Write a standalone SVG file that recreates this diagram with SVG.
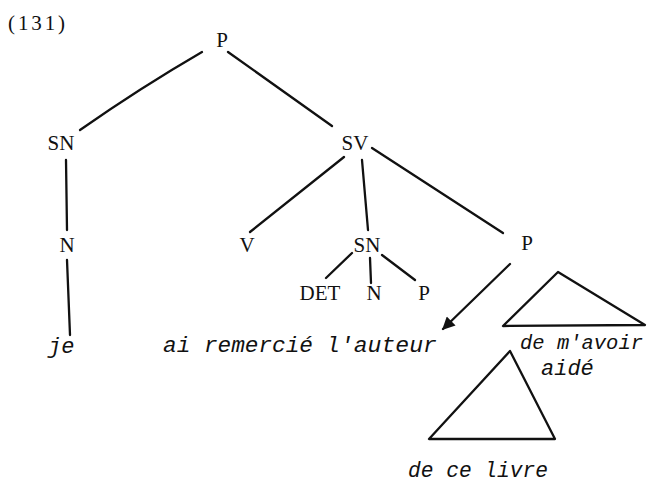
<svg xmlns="http://www.w3.org/2000/svg" width="649" height="483" viewBox="0 0 649 483">
<defs>
<style>
.lbl{font-family:"Liberation Serif","DejaVu Serif",serif;font-size:21px;fill:#111;text-anchor:middle}
.leaf{font-family:"Liberation Mono","DejaVu Sans Mono",monospace;font-size:22px;font-style:italic;fill:#111}
.e{stroke:#111;stroke-width:2.3;fill:none;stroke-linecap:round;stroke-linejoin:round}
</style>
<marker id="ah" viewBox="0 0 10 10" refX="9" refY="5" markerWidth="7.5" markerHeight="5.5" orient="auto" markerUnits="strokeWidth">
<path d="M0,0 L10,5 L0,10 Z" fill="#111"/>
</marker>
</defs>
<rect width="649" height="483" fill="#fff"/>
<text x="8" y="30" class="lbl" style="text-anchor:start" textLength="57" lengthAdjust="spacing">(131)</text>
<g id="connectors">
<path class="e" d="M202,52 Q140,88 80,130"/>
<line class="e" x1="228" y1="52" x2="332" y2="126"/>
<line class="e" x1="66" y1="160" x2="67" y2="230"/>
<line class="e" x1="67" y1="260" x2="70" y2="335"/>
<line class="e" x1="344" y1="157" x2="250" y2="232"/>
<line class="e" x1="362" y1="160" x2="368" y2="230"/>
<line class="e" x1="372" y1="148" x2="503" y2="233"/>
<line class="e" x1="352" y1="253" x2="326" y2="278"/>
<line class="e" x1="370" y1="258" x2="371" y2="283"/>
<line class="e" x1="382" y1="255" x2="415" y2="280"/>
<line class="e" x1="510" y1="264" x2="443" y2="329" marker-end="url(#ah)"/>
</g>
<g id="n-P"><text class="lbl" x="222" y="47">P</text></g>
<g id="n-SN"><text class="lbl" x="61" y="150">SN</text></g>
<g id="n-SV"><text class="lbl" x="355" y="150">SV</text></g>
<g id="n-N"><text class="lbl" x="67" y="252">N</text></g>
<g id="n-V"><text class="lbl" x="247" y="252">V</text></g>
<g id="n-SN2"><text class="lbl" x="367" y="252">SN</text></g>
<g id="n-P2"><text class="lbl" x="527" y="250">P</text></g>
<g id="n-DET"><text class="lbl" x="320" y="300">DET</text></g>
<g id="n-N2"><text class="lbl" x="374" y="300">N</text></g>
<g id="n-P3"><text class="lbl" x="424" y="300">P</text></g>
<g id="n-je"><text class="leaf" x="48" y="353">je</text></g>
<g id="n-ai"><text class="leaf" x="163" y="352" textLength="150" lengthAdjust="spacingAndGlyphs">ai remercié</text></g>
<g id="n-auteur"><text class="leaf" x="326" y="352" textLength="111" lengthAdjust="spacingAndGlyphs">l'auteur</text></g>
<g id="n-tri1">
<path class="e" d="M558,272 L503,326 L645,325 Z"/>
<text class="leaf" x="520" y="349" style="font-size:20.5px" textLength="123" lengthAdjust="spacingAndGlyphs">de m'avoir</text>
<text class="leaf" x="541" y="375">aidé</text>
</g>
<g id="n-tri2">
<path class="e" d="M510,351 L429,439 L555,439 Z"/>
<text class="leaf" x="408" y="477" textLength="140" lengthAdjust="spacingAndGlyphs">de ce livre</text>
</g>
</svg>
